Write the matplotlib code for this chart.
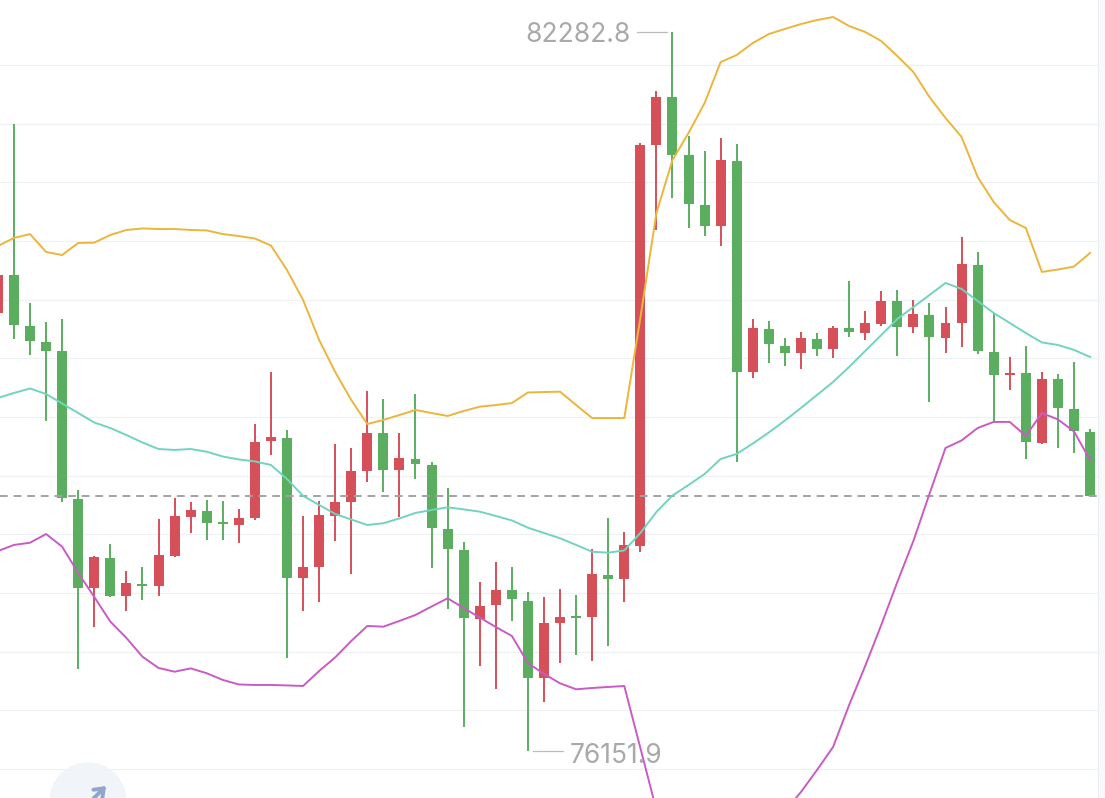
import matplotlib
matplotlib.use('Agg')
import matplotlib.pyplot as plt
import numpy as np
from matplotlib.patches import Ellipse, FancyArrowPatch

# OHLC candles (price)
opens = [79887, 80211, 79776, 79640, 79563, 78301, 77542, 77798, 77474, 77576,
         77559, 77815, 78147, 78199, 78105, 78079, 78139, 78795, 78821, 77627,
         77721, 78156, 78275, 78540, 78864, 78548, 78642, 78591, 78045, 77866,
         77278, 77397, 77525, 77431, 76775, 77244, 77303, 77295, 77653, 77619,
         77900, 81319, 81729, 81234, 80808, 80629, 81183, 79384, 79750, 79606,
         79546, 79665, 79580, 79759, 79716, 79793, 79989, 79768, 79870, 79674,
         79802, 80296, 79554, 79358, 79375, 78778, 79324, 79068, 78872]
highs = [80236, 81498, 79972, 79810, 79836, 78378, 77815, 77917, 77687, 77725,
         78130, 78309, 78275, 78292, 78280, 78216, 78940, 79384, 78889, 78156,
         78284, 78770, 78736, 79222, 79154, 78864, 79196, 78617, 78395, 77934,
         77593, 77764, 77721, 77508, 77465, 77533, 77482, 77874, 78139, 78019,
         81336, 81780, 82282.8, 81396, 81268, 81379, 81328, 79836, 79819, 79674,
         79725, 79716, 79776, 80160, 79904, 80074, 80083, 79998, 79972, 79938,
         80535, 80407, 79887, 79512, 79606, 79384, 79367, 79469, 78898]
lows = [79861, 79665, 79529, 78966, 78275, 76851, 77209, 77465, 77346, 77440,
        77474, 77806, 78011, 77951, 77947, 77926, 78122, 78676, 76945, 77346,
        77423, 77943, 77661, 78446, 78361, 78147, 78471, 77712, 77363, 76357,
        76877, 76681, 77261, 76151.9, 76570, 76902, 76971, 76920, 77047, 77423,
        77849, 80595, 80868, 80612, 80543, 80458, 78617, 79333, 79461, 79435,
        79409, 79520, 79503, 79682, 79657, 79776, 79520, 79716, 79128, 79546,
        79597, 79537, 78949, 79230, 78642, 78770, 78736, 78693, 78318]
closes = [80211, 79785, 79648, 79563, 78309, 77542, 77806, 77474, 77585, 77559,
          77823, 78156, 78207, 78096, 78088, 78139, 78787, 78830, 77627, 77721,
          78164, 78275, 78540, 78864, 78548, 78651, 78599, 78054, 77874, 77286,
          77388, 77525, 77448, 76775, 77244, 77295, 77286, 77661, 77619, 77909,
          81319, 81729, 81234, 80816, 80629, 81191, 79384, 79759, 79623, 79546,
          79674, 79580, 79759, 79725, 79802, 79989, 79768, 79878, 79682, 79802,
          80305, 79563, 79358, 79375, 78787, 79324, 79077, 78881, 78326]

# Bollinger bands
upper = [80458, 80527, 80560, 80407, 80381, 80484, 80487, 80552, 80595, 80608,
         80603, 80603, 80595, 80591, 80560, 80543, 80522, 80462, 80253, 79998,
         79657, 79384, 79145, 78940, 78975, 79017, 79060, 79034, 79009, 79051,
         79088, 79102, 79119, 79209, 79213, 79216, 79102, 78991, 78991, 78991,
         79844, 80740, 81191, 81422, 81677, 82027, 82087, 82189, 82266, 82309,
         82351, 82385, 82411, 82334, 82283, 82206, 82078, 81942, 81729, 81550,
         81388, 81047, 80833, 80680, 80612, 80237, 80258, 80283, 80399]
middle = [79162, 79205, 79243, 79196, 79115, 79034, 78953, 78906, 78846, 78783,
          78727, 78719, 78727, 78704, 78663, 78638, 78621, 78591, 78471, 78327,
          78250, 78173, 78126, 78079, 78094, 78135, 78182, 78207, 78230, 78212,
          78193, 78156, 78118, 78056, 78011, 77966, 77909, 77851, 77843, 77862,
          78011, 78190, 78331, 78420, 78514, 78642, 78685, 78774, 78868, 78970,
          79077, 79188, 79299, 79427, 79563, 79699, 79836, 79938, 80040, 80143,
          80092, 79989, 79887, 79802, 79716, 79636, 79614, 79572, 79512]
lower = [77857, 77909, 77928, 78002, 77894, 77670, 77465, 77255, 77116, 76956,
         76860, 76828, 76856, 76815, 76758, 76719, 76715, 76715, 76711, 76706,
         76834, 76950, 77090, 77218, 77212, 77261, 77312, 77384, 77454, 77371,
         77290, 77209, 77133, 76902, 76809, 76729, 76678, 76689, 76698, 76706,
         76178, 75649, 75470, 75419, 75351, 75257, 75282, 75359, 75470, 75640,
         75802, 75990, 76186, 76544, 76877, 77227, 77593, 77943, 78344, 78736,
         78800, 78906, 78958, 78958, 78838, 79034, 78979, 78877, 78633]

grid_levels = [76000, 76500, 77000, 77500, 78000, 78500, 79000, 79500,
               80000, 80500, 81000, 81500, 82000]

RED = '#d6505a'
GREEN = '#5bae60'
GOLD = '#ecb53c'
TEAL = '#72d3c0'
PURPLE = '#c95bc3'
LABEL = '#a9a9a9'

o = np.array(opens, dtype=float)
c = np.array(closes, dtype=float)
idx = np.arange(len(c))
colors = np.where(c >= o, RED, GREEN)

fig = plt.figure(figsize=(11.05, 7.98), dpi=100)
ax = fig.add_axes([0, 0, 1, 1])
ax.set_xlim(0.13, 68.93)
ax.set_ylim(75751, 82556)
ax.axis('off')

for g in grid_levels:
    ax.axhline(g, color='#eef1f5', lw=0.9, zorder=0)

# price axis strip on the right
ax.axvspan(68.5, 69.5, color='#f8f9fb', lw=0, zorder=0)
ax.axvline(68.5, color='#eceef2', lw=0.8, zorder=0)

# candles
ax.vlines(idx, lows, highs, colors=colors, lw=1.4, zorder=2)
min_h = 22
h = np.maximum(np.abs(c - o), min_h)
bottom = (o + c) / 2 - h / 2
ax.bar(idx, h, bottom=bottom, width=0.62, color=colors, lw=0, zorder=3)

# last price line
ax.hlines(closes[-1], 0.13, 68.5, colors='#a3a3a3', lw=1.4,
          linestyles=(0, (4, 3)), zorder=3.5)

# bands
ax.plot(idx, upper, color=GOLD, lw=1.4, zorder=4)
ax.plot(idx, middle, color=TEAL, lw=1.4, zorder=4)
ax.plot(idx, lower, color=PURPLE, lw=1.4, zorder=4)

# high / low markers
hi = int(np.argmax(highs))
lo = int(np.argmin(lows))
ax.plot([hi - 2.18, hi - 0.31], [highs[hi]] * 2, color='#bdbdbd', lw=0.9, zorder=5)
ax.annotate(f'{highs[hi]:.1f}', xy=(hi - 2.62, highs[hi]), xytext=(0, -7.3),
            textcoords='offset points', ha='right', va='baseline',
            fontsize=19, color=LABEL, family='Inter', zorder=5)
ax.plot([lo + 0.31, lo + 2.18], [lows[lo]] * 2, color='#bdbdbd', lw=0.9, zorder=5)
ax.annotate(f'{lows[lo]:.1f}', xy=(lo + 2.62, lows[lo]), xytext=(0, -8.4),
            textcoords='offset points', ha='left', va='baseline',
            fontsize=19, color=LABEL, family='Inter', zorder=5)

# floating button in the lower-left corner
fig.add_artist(Ellipse((88 / 1105, 1 - 801 / 798), 76 / 1105, 76 / 798,
                       transform=fig.transFigure, color='#f1f4f9', zorder=10))
fig.add_artist(FancyArrowPatch((90 / 1105, 1 - 802 / 798), (108 / 1105, 1 - 784 / 798),
                               transform=fig.transFigure, arrowstyle='->,head_length=6,head_width=4.5',
                               color='#8fa6cf', lw=2.8, zorder=11))

fig.savefig('out.png', dpi=100)
